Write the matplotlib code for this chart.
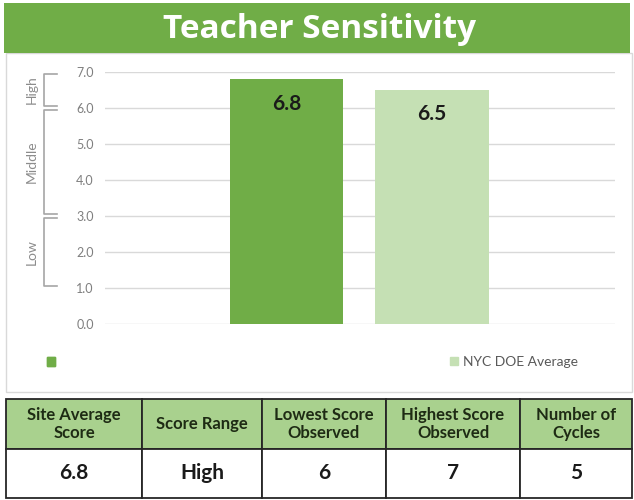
import numpy as np
import matplotlib
matplotlib.use('Agg')
import matplotlib.pyplot as plt
from matplotlib.patches import Rectangle, Patch
from matplotlib.transforms import blended_transform_factory

plt.rcParams['font.family'] = ['Lato', 'DejaVu Sans']

# Данные
title = "Teacher Sensitivity"
series = ["", "NYC DOE Average"]
values = [6.8, 6.5]
bar_colors = ["#70ad47", "#c5e0b4"]
yticks = [0, 1, 2, 3, 4, 5, 6, 7]
bands = [("High", 6, 7), ("Middle", 3, 6), ("Low", 1, 3)]
table_header = ["Site Average\nScore", "Score Range", "Lowest Score\nObserved",
                "Highest Score\nObserved", "Number of\nCycles"]
table_values = ["6.8", "High", "6", "7", "5"]
col_widths = [136, 120, 124, 134, 112]

W, H = 634, 500
fig = plt.figure(figsize=(W / 100, H / 100), dpi=100)

def px(x0, y0, x1, y1):
    # прямоугольник в пикселях (сверху вниз) -> координаты фигуры
    return [x0 / W, 1 - y1 / H, (x1 - x0) / W, (y1 - y0) / H]

# Рамка диаграммы и заголовок
fig.patches.append(Rectangle((6 / W, 1 - 392 / H), 626 / W, 339 / H, transform=fig.transFigure,
                             fill=False, edgecolor="#d9d9d9", lw=1))
fig.patches.append(Rectangle((4 / W, 1 - 53 / H), 626 / W, 50 / H, transform=fig.transFigure,
                             facecolor="#70ad47", edgecolor="none"))
fig.text(320 / W, 1 - 29 / H, title, color="white", fontsize=24, fontweight="bold",
         family=["Open Sans", "DejaVu Sans"], ha="center", va="center")

# Столбцы
ax = fig.add_axes(px(105, 72, 615, 324))
xpos = [-0.144, 0.141]
bars = ax.bar(xpos, values, width=0.222, color=bar_colors, zorder=2)
for x, v in zip(xpos, values):
    ax.annotate(f"{v:.1f}", (x, v), xytext=(0, -17.5), textcoords="offset points",
                ha="center", va="center", fontsize=15, fontweight="bold", color="#1a1a1a")
ax.set_xlim(-0.5, 0.5)
ax.set_ylim(0, 7)
ax.set_yticks(yticks)
ax.set_yticklabels([f"{t:.1f}" for t in yticks], color="#7f7f7f", fontsize=9)
ax.tick_params(axis="y", length=0, pad=8)
ax.set_xticks([])
ax.grid(axis="y", color="#d9d9d9", lw=1, zorder=0)
for s in ax.spines.values():
    s.set_visible(False)

# Скобки High / Middle / Low
tr = blended_transform_factory(fig.transFigure, ax.transData)
for name, y0, y1 in bands:
    a, b = y0 + 0.06, y1 - 0.06
    ax.plot([57 / W, 44 / W, 44 / W, 57 / W], [a, a, b, b], transform=tr, clip_on=False,
            color="#a6a6a6", lw=1.2)
    ax.text(32 / W, (y0 + y1) / 2, name, transform=tr, rotation=90, ha="center", va="center",
            fontsize=10, color="#8c8c8c")

# Легенда
leg1 = fig.legend(handles=[Patch(color=bar_colors[0])], labels=[series[0]], loc="center left",
                  bbox_to_anchor=(47 / W, 1 - 362 / H), frameon=False, handlelength=0.6,
                  handleheight=0.6, borderpad=0, borderaxespad=0, fontsize=10)
fig.legend(handles=[Patch(color=bar_colors[1])], labels=[series[1]], loc="center left",
           bbox_to_anchor=(450 / W, 1 - 362 / H), frameon=False, handlelength=0.55,
           handleheight=0.55, borderpad=0, borderaxespad=0, handletextpad=0.4,
           fontsize=10, labelcolor="#595959")
fig.add_artist(leg1)

# Таблица
axt = fig.add_axes(px(6, 399, 632, 498))
axt.axis("off")
cw = np.array(col_widths) / sum(col_widths)
tbl = axt.table(cellText=[table_header, table_values], cellLoc="center",
                colWidths=list(cw), bbox=[0, 0, 1, 1])
tbl.auto_set_font_size(False)
for (r, c), cell in tbl.get_celld().items():
    cell.set_edgecolor("#262626")
    cell.set_linewidth(1.3)
    t = cell.get_text()
    t.set_fontweight("bold")
    if r == 0:
        cell.set_facecolor("#a9d18e")
        t.set_fontsize(12)
        t.set_color("#1e2b14")
        t.set_linespacing(1.15)
    else:
        cell.set_facecolor("white")
        t.set_fontsize(15)
        t.set_color("#1a1a1a")

fig.savefig("out.png", dpi=100)
